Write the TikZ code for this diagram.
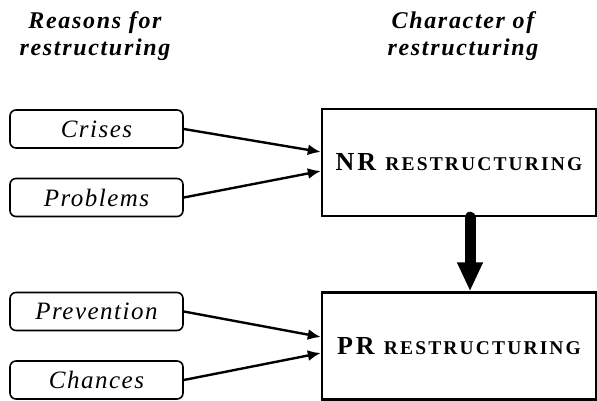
\documentclass[tikz,border=0pt]{standalone}
\usepackage{fontspec}
\setmainfont{Liberation Serif}
\usetikzlibrary{arrows.meta, positioning, calc}

\begin{document}
\begin{tikzpicture}[
    x=1pt, y=-1pt,
    reason/.style={rectangle, rounded corners=6pt, draw=black, line width=1.6pt, minimum width=173pt, minimum height=38pt, inner sep=0pt, font=\fontsize{25}{28}\selectfont\itshape\addfontfeature{LetterSpace=6}},
    kind/.style={rectangle, draw=black, line width=2.4pt, minimum width=274pt, minimum height=107pt, inner sep=0pt, font=\fontsize{26}{28}\selectfont\bfseries\addfontfeature{LetterSpace=11}},
    arrow/.style={-{Latex[length=13pt, width=11pt]}, line width=2.4pt},
    bigarrow/.style={-{Triangle[length=29pt, width=24pt]}, line width=11pt, line cap=round},
    title/.style={align=center, font=\fontsize{24}{27}\selectfont\bfseries\itshape\addfontfeature{LetterSpace=7}}
]
\useasboundingbox (0,0) rectangle (597,401);

% titles
\node[title] (tr) at (95,36) {Reasons for\\restructuring};
\node[title] (tc) at (463,36) {Character of\\restructuring};

% reasons
\node[reason] (crises) at (96.5,129) {Crises};
\node[reason] (problems) at (96.5,197.5) {Problems};
\node[reason] (prevention) at (96.5,311.5) {Prevention};
\node[reason] (chances) at (96.5,380) {Chances};

% character
\node[kind] (nr) at (459,162.5) {NR {\fontsize{19.5}{20}\selectfont RESTRUCTURING}};
\node[kind] (pr) at (459,346) {PR {\fontsize{19.5}{20}\selectfont RESTRUCTURING}};

% arrows
\draw[arrow] (crises.east) -- ($(nr.west)+(0,-10.5)$);
\draw[arrow] (problems.east) -- ($(nr.west)+(0,8.5)$);
\draw[arrow] (prevention.east) -- ($(pr.west)+(0,-9)$);
\draw[arrow] (chances.east) -- ($(pr.west)+(0,7)$);

\draw[bigarrow] ($(nr.south)+(11,0)$) -- ($(pr.north)+(11,0)$);

\end{tikzpicture}
\end{document}
